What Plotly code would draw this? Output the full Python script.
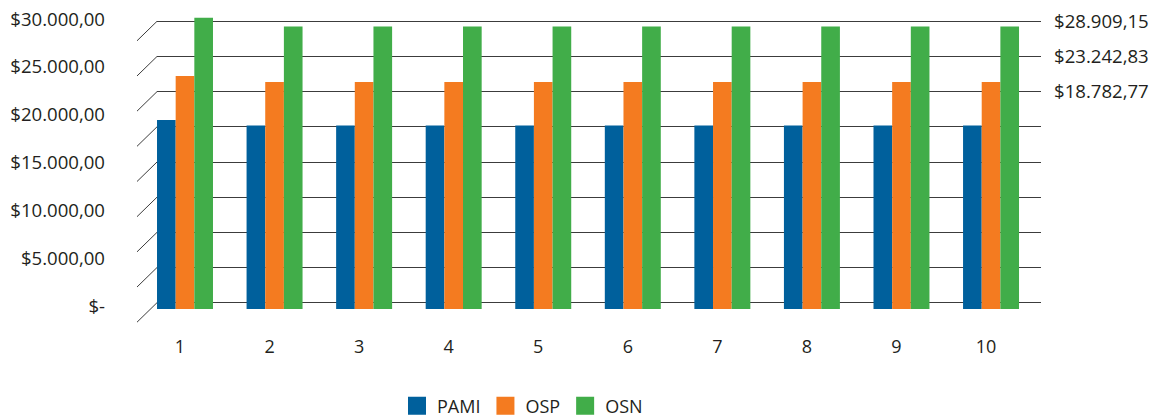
import plotly.graph_objects as go

# Monthly cost per member over ten periods, by health-coverage provider
periods = [1, 2, 3, 4, 5, 6, 7, 8, 9, 10]
pami = [19350, 18782.77, 18782.77, 18782.77, 18782.77, 18782.77, 18782.77, 18782.77, 18782.77, 18782.77]
osp = [23850, 23242.83, 23242.83, 23242.83, 23242.83, 23242.83, 23242.83, 23242.83, 23242.83, 23242.83]
osn = [29800, 28909.15, 28909.15, 28909.15, 28909.15, 28909.15, 28909.15, 28909.15, 28909.15, 28909.15]

series_names = ["PAMI", "OSP", "OSN"]
series_colors = ["#00609c", "#f47b20", "#41ad49"]

# Value-axis labels on the left
left_vals = [0, 5000, 10000, 15000, 20000, 25000, 30000]
left_text = ["$-", "$5.000,00", "$10.000,00", "$15.000,00", "$20.000,00", "$25.000,00", "$30.000,00"]

# Back-wall grid (nine levels) with the reference amounts on the right
grid_levels = [0, 1, 2, 3, 4, 5, 6, 7, 8]
right_text = ["", "", "", "", "", "", "$18.782,77", "$23.242,83", "$28.909,15"]

FONT = "Open Sans"
TXT = "#231f20"
GRID = "#3c3c3c"

W, H = 1161, 418
ML, MR, MT, MB = 157, 120, 10, 88
PH = H - MT - MB  # plot height in px

def axis_range(px_zero, px_per_unit):
    """Range whose value 0 sits at pixel row px_zero (from top)."""
    r0 = -((H - MB) - px_zero) / px_per_unit
    return [r0, r0 + PH / px_per_unit]

fig = go.Figure()
for name, vals, col in zip(series_names, [pami, osp, osn], series_colors):
    fig.add_trace(go.Bar(x=periods, y=vals, name=name, marker_color=col,
                         marker_line_width=0, showlegend=False))
# Legend entries with larger square swatches (on the label axis, no points)
for name, col in zip(series_names, series_colors):
    fig.add_trace(go.Scatter(x=[None], y=[None], mode="markers", name=name,
                             yaxis="y2",
                             marker=dict(symbol="square", size=16, color=col,
                                         line=dict(color=col, width=2))))

# Side-wall diagonals connecting each grid level to the front edge
for lvl in grid_levels:
    fig.add_shape(type="line", xref="paper", yref="y3",
                  xsizemode="pixel", xanchor=0, x0=-20, x1=0,
                  ysizemode="pixel", yanchor=lvl, y0=-19.5, y1=0,
                  line=dict(color=GRID, width=1))

px_per_cat = 89.56
x_left = 1 - 28 / px_per_cat
x_right = x_left + (W - ML - MR) / px_per_cat

fig.update_layout(
    width=W, height=H,
    margin=dict(l=ML, r=MR, t=MT, b=MB, autoexpand=False),
    paper_bgcolor="white", plot_bgcolor="white",
    font=dict(family=FONT, size=18, color=TXT),
    barmode="group", bargap=0.375, bargroupgap=0,
    xaxis=dict(range=[x_left, x_right], tickvals=periods, ticktext=[str(p) for p in periods],
               showgrid=False, zeroline=False, showline=False, ticks="",
               ticklabelshift=-5, ticklabelstandoff=4, automargin=False),
    yaxis=dict(range=axis_range(309, 0.00977), visible=False, fixedrange=True),
    yaxis2=dict(overlaying="y", side="left", anchor="x",
                range=axis_range(306.7, 287.7 / 30000),
                tickvals=left_vals, ticktext=left_text, tickfont=dict(size=18.6),
                showgrid=False, zeroline=False, showline=False, ticks="",
                ticklabelstandoff=51, automargin=False),
    yaxis3=dict(overlaying="y", side="right", anchor="x",
                range=axis_range(302.7, 281.4 / 8),
                tickvals=grid_levels, ticktext=right_text, tickfont=dict(size=18.6),
                showgrid=True, gridcolor=GRID, gridwidth=1,
                zeroline=False, showline=False, ticks="",
                ticklabelstandoff=12, automargin=False),
    legend=dict(orientation="h", x=(397 - ML) / (W - ML - MR), xanchor="left",
                y=((H - MB) - 406) / PH, yanchor="middle",
                font=dict(size=18), itemsizing="trace", bgcolor="rgba(0,0,0,0)"),
)

fig.write_html("out.html")
